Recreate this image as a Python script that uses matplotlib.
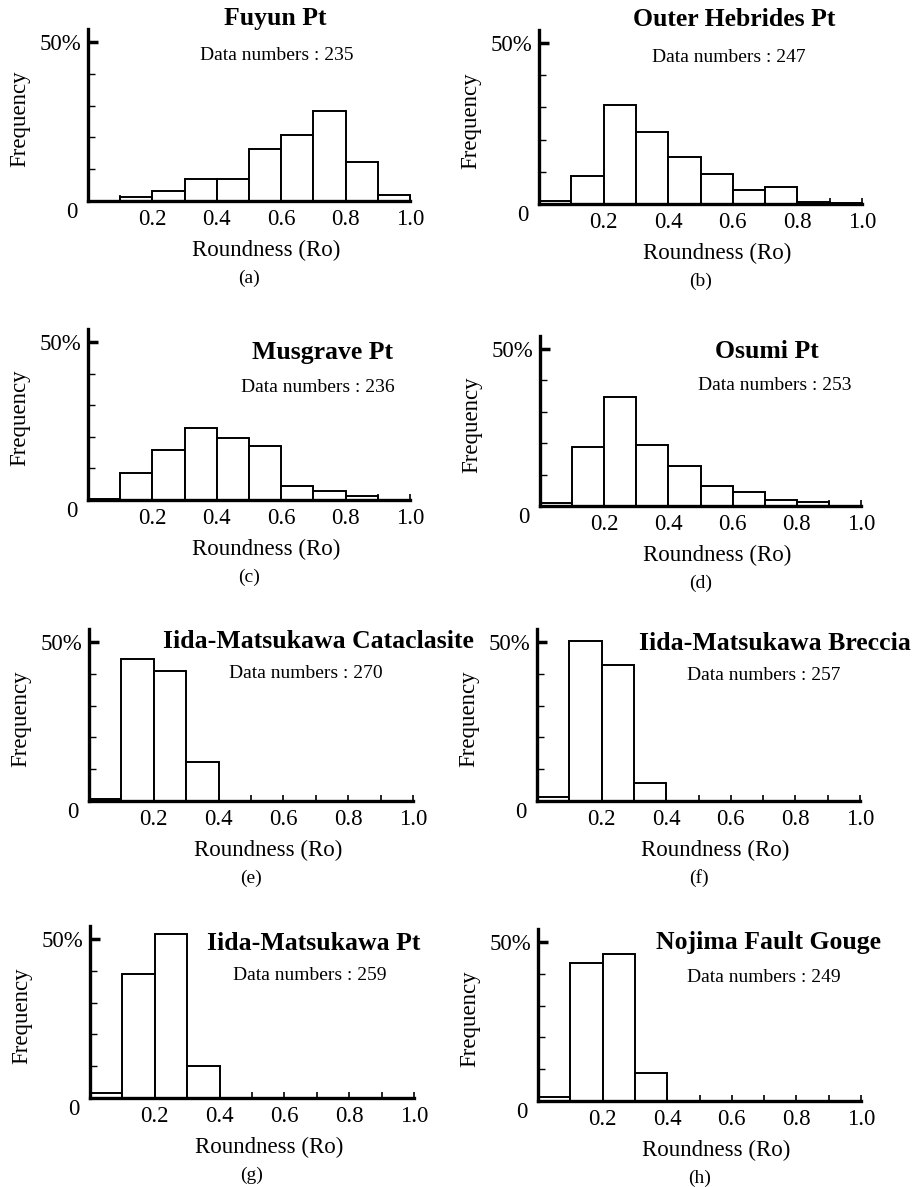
import numpy as np
import matplotlib.pyplot as plt

plt.rcParams['font.family'] = ['Liberation Serif', 'DejaVu Serif']

# bin edges of roundness, 0.1 wide
bin_left = [0.0, 0.1, 0.2, 0.3, 0.4, 0.5, 0.6, 0.7, 0.8, 0.9]

# frequency (%) per bin
fuyun = [0.0, 1.3, 3.3, 7.0, 7.0, 16.5, 20.6, 28.4, 12.4, 1.8]
outer_hebrides = [0.9, 8.7, 30.6, 22.5, 14.5, 9.4, 4.4, 5.3, 0.7, 0.2]
musgrave = [0.3, 8.5, 15.9, 22.7, 19.7, 17.1, 4.5, 2.7, 1.4, 0.0]
osumi = [0.9, 18.8, 34.7, 19.5, 12.7, 6.4, 4.4, 2.0, 1.2, 0.0]
iida_cataclasite = [0.6, 44.8, 40.9, 12.4, 0, 0, 0, 0, 0, 0]
iida_breccia = [1.2, 50.2, 42.9, 5.6, 0, 0, 0, 0, 0, 0]
iida_pt = [1.6, 39.0, 51.5, 10.1, 0, 0, 0, 0, 0, 0]
nojima = [1.2, 43.4, 46.2, 8.9, 0, 0, 0, 0, 0, 0]

names = ["Fuyun Pt", "Outer Hebrides Pt", "Musgrave Pt", "Osumi Pt",
         "Iida-Matsukawa Cataclasite", "Iida-Matsukawa Breccia",
         "Iida-Matsukawa Pt", "Nojima Fault Gouge"]
counts = [235, 247, 236, 253, 270, 257, 259, 249]
letters = ["(a)", "(b)", "(c)", "(d)", "(e)", "(f)", "(g)", "(h)"]
series = [fuyun, outer_hebrides, musgrave, osumi,
          iida_cataclasite, iida_breccia, iida_pt, nojima]

W, H = 914, 1187
# panel layout in pixels: axis left, axis right, baseline, 50% line,
# title centre (x, y), "Data numbers" centre (x, y)
layout = [
    (88, 410, 201, 42, (275, 18), (277, 56)),
    (539, 862, 204, 43, (734, 20), (729, 58)),
    (88, 410, 500, 342, (322, 352), (318, 387)),
    (540, 861, 506, 349, (767, 352), (775, 385)),
    (89, 413, 801, 642, (318, 642), (306, 673)),
    (537, 860, 801, 642, (775, 643), (764, 676)),
    (90, 414, 1098, 939, (314, 944), (310, 976)),
    (538, 861, 1101, 942, (768, 943), (764, 978)),
]

YTOP = 54

fig = plt.figure(figsize=(W / 100, H / 100), dpi=100)

def fx(x):
    return x / W

def fy(y):
    return 1 - y / H

for vals, name, n, lab, (x0, x1, yb, y50, tpos, dpos) in zip(
        series, names, counts, letters, layout):
    ytop = yb - (yb - y50) * YTOP / 50
    ax = fig.add_axes([fx(x0), fy(yb), (x1 - x0) / W, (yb - ytop) / H])
    ax.bar(bin_left, vals, width=0.1, align='edge', facecolor='white',
           edgecolor='black', linewidth=1.4, clip_on=False, zorder=2)
    ax.set_xlim(0, 1.0)
    ax.set_ylim(0, YTOP)
    for s in ['top', 'right']:
        ax.spines[s].set_visible(False)
    for s in ['left', 'bottom']:
        ax.spines[s].set_linewidth(2.4)
        ax.spines[s].set_zorder(3)

    ax.set_xticks(np.arange(0.1, 1.01, 0.1))
    ax.set_xticklabels(['', '0.2', '', '0.4', '', '0.6', '', '0.8', '', '1.0'])
    ax.tick_params(axis='x', direction='in', length=4, width=1.2,
                   labelsize=16.5, pad=6)
    ax.set_yticks([10, 20, 30, 40, 50])
    ax.set_yticklabels(['', '', '', '', '50%'])
    ax.tick_params(axis='y', direction='in', length=5, width=1.0,
                   labelsize=16.5, pad=5)
    ax.yaxis.get_major_ticks()[-1].tick1line.set_markersize(7)
    ax.yaxis.get_major_ticks()[-1].tick1line.set_markeredgewidth(2.5)
    ax.annotate('0', (0, 0), xytext=(-12, -8), textcoords='offset points',
                ha='center', va='center', fontsize=16.5,
                annotation_clip=False)

    fig.text(fx(tpos[0]), fy(tpos[1]), name, ha='center', va='center',
             fontsize=18.5, fontweight='bold')
    fig.text(fx(dpos[0]), fy(dpos[1]), f"Data numbers : {n}",
             ha='center', va='center', fontsize=14)
    fig.text(fx((x0 + x1) / 2 + 17), fy(yb + 49), "Roundness (Ro)",
             ha='center', va='center', fontsize=16.5)
    fig.text(fx((x0 + x1) / 2), fy(yb + 77), lab,
             ha='center', va='center', fontsize=14)
    fig.text(fx(x0 - 68), fy((yb + y50) / 2 - 3), "Frequency",
             ha='center', va='center', rotation=90, fontsize=16.5)

fig.savefig('out.png', dpi=100)
